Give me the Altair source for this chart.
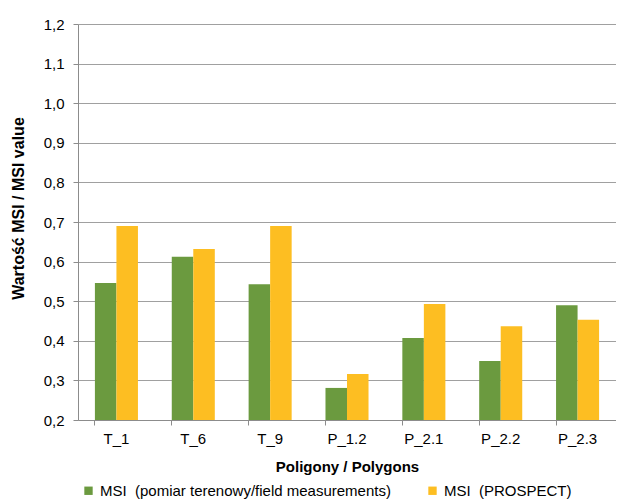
import altair as alt
import pandas as pd

categories = ["T_1", "T_6", "T_9", "P_1.2", "P_2.1", "P_2.2", "P_2.3"]
field_vals = [0.546, 0.612, 0.543, 0.281, 0.407, 0.349, 0.490]
prospect_vals = [0.690, 0.632, 0.690, 0.316, 0.493, 0.437, 0.453]
series = ["MSI\u00a0 (pomiar terenowy/field measurements)", "MSI\u00a0 (PROSPECT)"]
colors = ["#6B9A3F", "#FDBE22"]
y_ticks = [0.2, 0.3, 0.4, 0.5, 0.6, 0.7, 0.8, 0.9, 1.0, 1.1, 1.2]

rows = []
for c, f, p in zip(categories, field_vals, prospect_vals):
    rows.append({"cat": c, "series": series[0], "value": f})
    rows.append({"cat": c, "series": series[1], "value": p})
df = pd.DataFrame(rows)

FONT = "Liberation Sans"

chart = alt.Chart(df).mark_bar().encode(
    x=alt.X("cat:N", sort=categories, title="Poligony / Polygons",
            scale=alt.Scale(paddingInner=0.44, paddingOuter=0.22),
            axis=alt.Axis(labelAngle=0, bandPosition=0, tickSize=5,
                          labelPadding=6, titlePadding=13, domainColor="#8c8c8c",
                          tickColor="#8c8c8c", labelFontSize=15, titleFontSize=15,
                          labelColor="#000", titleColor="#000")),
    xOffset=alt.XOffset("series:N", sort=series),
    y=alt.Y("value:Q", title="Wartość MSI / MSI value",
            scale=alt.Scale(domain=[0.2, 1.2], zero=False, nice=False),
            axis=alt.Axis(values=y_ticks, tickSize=5, labelPadding=9,
                          labelExpr="replace(format(datum.value, '.1f'), '.', ',')",
                          gridColor="#a0a0a0", domainColor="#8c8c8c", tickColor="#8c8c8c",
                          labelFontSize=15, titleFontSize=16,
                          titleX=-60, titleY=184, titleAngle=270,
                          titleAlign="center", titleBaseline="middle",
                          labelColor="#000", titleColor="#000")),
    y2=alt.datum(0.2),
    color=alt.Color("series:N", sort=series,
                    scale=alt.Scale(domain=series, range=colors),
                    legend=alt.Legend(title=None, orient="none", legendX=3, legendY=459,
                                      direction="horizontal", symbolType="square",
                                      symbolSize=70, labelFontSize=15, columnPadding=34,
                                      labelLimit=0,
                                      labelColor="#000", symbolStrokeWidth=0,
                                      labelOffset=4)),
).properties(
    width=538, height=396,
    autosize=alt.AutoSizeParams(type="none"),
    padding={"left": 70, "top": 16, "right": 0, "bottom": 82},
).configure_axis(
    labelFont=FONT, titleFont=FONT, titleFontWeight="bold"
).configure_legend(
    labelFont=FONT
).configure_view(stroke=None)

chart.save("out.html", embed_options={"renderer": "svg", "actions": False})
